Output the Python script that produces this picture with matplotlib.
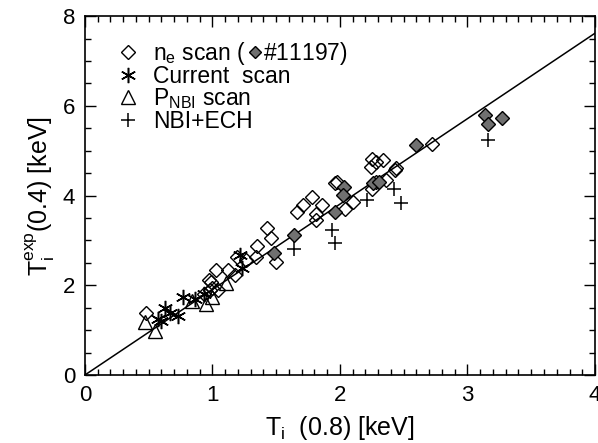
import matplotlib
matplotlib.use("Agg")
import matplotlib.pyplot as plt
from matplotlib.ticker import MultipleLocator

plt.rcParams["font.family"] = ["Liberation Sans", "DejaVu Sans"]
plt.rcParams["mathtext.default"] = "regular"

# n_e scan (open diamonds)
ne_x = [0.48, 0.93, 0.97, 0.99, 1.00, 1.03, 0.98, 1.04, 1.12, 1.18, 1.19, 1.26,
        1.34, 1.35, 1.43, 1.46, 1.50, 1.66, 1.71, 1.78, 1.86, 1.81, 1.81, 1.96,
        1.98, 2.04, 2.10, 2.24, 2.25, 2.28, 2.34, 2.36, 2.44, 2.43, 2.25, 2.28,
        2.72]
ne_y = [1.39, 1.80, 2.12, 2.08, 1.95, 2.34, 1.89, 1.89, 2.34, 2.23, 2.64, 2.56,
        2.64, 2.87, 3.28, 3.05, 2.53, 3.64, 3.80, 3.96, 3.79, 3.45, 3.59, 4.27,
        4.31, 3.71, 3.86, 4.64, 4.81, 4.75, 4.79, 4.35, 4.61, 4.56, 4.14, 4.31,
        5.15]

# shot #11197 (filled diamonds)
shot_x = [1.48, 1.64, 2.03, 2.02, 1.96, 2.26, 2.31, 2.60, 3.14, 3.16, 3.27]
shot_y = [2.73, 3.13, 4.19, 4.02, 3.64, 4.27, 4.31, 5.13, 5.80, 5.60, 5.74]

# current scan (asterisks)
cur_x = [0.57, 0.60, 0.63, 0.67, 0.73, 0.77, 0.86, 0.93, 1.22, 1.23]
cur_y = [1.24, 1.20, 1.49, 1.39, 1.31, 1.74, 1.70, 1.80, 2.67, 2.38]

# P_NBI scan (triangles)
nbi_x = [0.47, 0.55, 0.84, 0.95, 1.00, 1.11]
nbi_y = [1.19, 0.98, 1.66, 1.58, 1.75, 2.06]

# NBI+ECH (plus)
ech_x = [1.64, 1.94, 1.96, 2.21, 2.42, 2.48, 3.16]
ech_y = [2.80, 3.23, 2.95, 3.91, 4.14, 3.84, 5.25]

# reference line
fit_x = [0.0, 4.0]
fit_y = [0.0, 7.62]

fig = plt.figure(figsize=(5.98, 4.43), dpi=100)
ax = fig.add_axes([0.142, 0.1535, 0.853, 0.81])

ax.plot(fit_x, fit_y, color="k", lw=1.1, zorder=1)
h_ne, = ax.plot(ne_x, ne_y, ls="none", marker="D", ms=7, mfc="none", mec="k", mew=1.0)
ax.plot(shot_x, shot_y, ls="none", marker="D", ms=7, mfc="#707070", mec="k", mew=1.0)
h_cur, = ax.plot(cur_x, cur_y, ls="none", marker=(6, 2, 0), ms=11, mec="k", mew=1.1)
h_nbi, = ax.plot(nbi_x, nbi_y, ls="none", marker="^", ms=10, mfc="none", mec="k", mew=1.0)
h_ech, = ax.plot(ech_x, ech_y, ls="none", marker="+", ms=10, mec="k", mew=1.1)

leg = ax.legend([h_ne, h_cur, h_nbi, h_ech],
                ["n$_e$ scan (   #11197)", "Current  scan", "P$_{NBI}$ scan", "NBI+ECH"],
                loc="upper left", bbox_to_anchor=(0.04, 0.965), frameon=False,
                handlelength=1.0, handletextpad=0.6, labelspacing=-0.08,
                borderpad=0, fontsize=16.5)

ax.set_xlim(0, 4)
ax.set_ylim(0, 8)
ax.xaxis.set_major_locator(MultipleLocator(1))
ax.xaxis.set_minor_locator(MultipleLocator(0.1))
ax.yaxis.set_major_locator(MultipleLocator(2))
ax.yaxis.set_minor_locator(MultipleLocator(0.5))
ax.tick_params(which="both", direction="in", top=True, right=True, width=1.0)
ax.tick_params(which="major", length=8, labelsize=16, pad=7)
ax.tick_params(which="minor", length=4)
for s in ax.spines.values():
    s.set_linewidth(1.2)

ax.set_xlabel("T$_i$  (0.8) [keV]", fontsize=18, labelpad=6)
ax.set_ylabel("T$_i^{exp}$(0.4) [keV]", fontsize=18, labelpad=4)

# gray diamond inside the first legend label
fig.canvas.draw()
r = fig.canvas.get_renderer()
t0 = leg.get_texts()[0]
bb = t0.get_window_extent(r)
tmp = fig.text(0, 0, "n$_e$ scan (", fontsize=16.5)
w = tmp.get_window_extent(r).width
tmp.remove()
hb = leg.legend_handles[0].get_window_extent(r)
px = bb.x0 + w + 9
py = (hb.y0 + hb.y1) / 2
ax_xy = ax.transAxes.inverted().transform((px, py))
ax.plot([ax_xy[0]], [ax_xy[1]], transform=ax.transAxes, ls="none", marker="D",
        ms=6, mfc="#707070", mec="k", mew=1.0, clip_on=False)

fig.savefig("out.png", dpi=100)
